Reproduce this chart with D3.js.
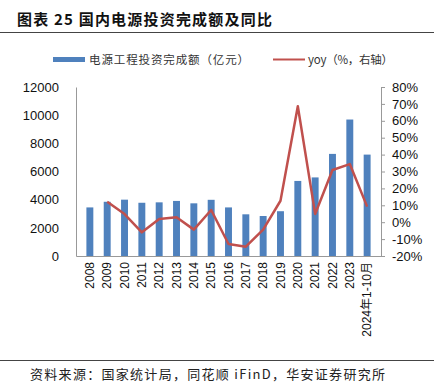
<!DOCTYPE html>
<html>
<head>
<meta charset="utf-8">
<script src="https://cdn.jsdelivr.net/npm/d3@7"></script>
<style>
  body { margin: 0; background: #fff; }
  svg text { font-family: "Liberation Sans", Arial, "Noto Sans CJK SC", sans-serif; }
  .cn { font-family: "Noto Sans CJK SC", sans-serif; }
</style>
</head>
<body>
<div id="chart"></div>
<script>
// data
var years = ["2008", "2009", "2010", "2011", "2012", "2013", "2014", "2015", "2016",
  "2017", "2018", "2019", "2020", "2021", "2022", "2023", "2024年1-10月"];
var invest = [3450, 3850, 4000, 3780, 3810, 3910, 3740, 3990, 3450,
  2960, 2840, 3180, 5330, 5580, 7250, 9690, 7200];
var yoy = [null, 12.1, 4.8, -6.0, 1.9, 2.9, -4.4, 7.2, -12.9,
  -14.5, -4.4, 12.7, 68.6, 4.9, 30.9, 34.4, 9.2];
var leftTicks = [0, 2000, 4000, 6000, 8000, 10000, 12000];
var rightTicks = [-20, -10, 0, 10, 20, 30, 40, 50, 60, 70, 80];

var svgWidth = 434, svgHeight = 386;
var margin = { top: 87, left: 76, right: 53, bottom: 130 };
var width = svgWidth - margin.left - margin.right;
var height = svgHeight - margin.top - margin.bottom;

var svg = d3.select("#chart").append("svg")
  .attr("width", svgWidth)
  .attr("height", svgHeight);

// title + rules
svg.append("text")
  .attr("class", "cn")
  .attr("x", 17).attr("y", 25)
  .attr("font-size", 15).attr("font-weight", "bold")
  .attr("letter-spacing", 1.2)
  .attr("fill", "#111")
  .text("图表 25 国内电源投资完成额及同比");
svg.append("line").attr("x1", 0).attr("x2", 434).attr("y1", 32.5).attr("y2", 32.5)
  .attr("stroke", "#444").attr("stroke-width", 1);
svg.append("line").attr("x1", 0).attr("x2", 434).attr("y1", 360.5).attr("y2", 360.5)
  .attr("stroke", "#444").attr("stroke-width", 1);
svg.append("text")
  .attr("class", "cn")
  .attr("x", 30).attr("y", 379)
  .attr("textLength", 355)
  .attr("font-size", 13).attr("fill", "#222")
  .text("资料来源：国家统计局，同花顺 iFinD，华安证券研究所");

// legend
var legend = svg.append("g").attr("font-size", 11.5).attr("fill", "#333");
legend.append("rect").attr("x", 53).attr("y", 57).attr("width", 32).attr("height", 5)
  .attr("fill", "#4f81bd");
legend.append("text").attr("class", "cn").attr("x", 89).attr("y", 64)
  .attr("textLength", 160)
  .text("电源工程投资完成额（亿元）");
legend.append("line").attr("x1", 273).attr("x2", 305).attr("y1", 59.5).attr("y2", 59.5)
  .attr("stroke", "#c0504d").attr("stroke-width", 2);
legend.append("text").attr("class", "cn").attr("x", 308).attr("y", 64)
  .attr("textLength", 85)
  .text("yoy（%，右轴）");

var chartGroup = svg.append("g")
  .attr("transform", `translate(${margin.left}, ${margin.top})`);

var xScale = d3.scaleBand().domain(years).range([0, width]).padding(0.6);
var yLeft = d3.scaleLinear().domain([0, 12000]).range([height, 0]);
var yRight = d3.scaleLinear().domain([-20, 80]).range([height, 0]);

// bars
chartGroup.selectAll(".bar")
  .data(years)
  .enter()
  .append("rect")
  .attr("class", "bar")
  .attr("x", d => xScale(d))
  .attr("width", xScale.bandwidth())
  .attr("y", (d, i) => yLeft(invest[i]))
  .attr("height", (d, i) => height - yLeft(invest[i]))
  .attr("fill", "#4f81bd");

// axes
var leftAxis = chartGroup.append("g")
  .call(d3.axisLeft(yLeft).tickValues(leftTicks).tickSize(0).tickPadding(17)
    .tickFormat(d3.format("d")));
leftAxis.select(".domain").attr("stroke", "#999");
leftAxis.selectAll("text").attr("font-size", 13).attr("fill", "#111");

var rightAxis = chartGroup.append("g")
  .attr("transform", `translate(${width}, 0)`)
  .call(d3.axisRight(yRight).tickValues(rightTicks).tickSize(4).tickPadding(7)
    .tickFormat(d => d + "%"));
rightAxis.select(".domain").attr("stroke", "#999");
rightAxis.selectAll("line").attr("stroke", "#999");
rightAxis.selectAll("text").attr("font-size", 13).attr("fill", "#111");

var bottomAxis = chartGroup.append("g")
  .attr("transform", `translate(0, ${height})`)
  .call(d3.axisBottom(xScale).tickSize(0).tickPadding(0));
bottomAxis.select(".domain").attr("stroke", "#999");
bottomAxis.selectAll("text")
  .attr("font-size", 12).attr("fill", "#111")
  .attr("text-anchor", "end")
  .attr("transform", "rotate(-90)")
  .attr("x", -6).attr("y", 0).attr("dy", "0.35em");

// yoy line
var line = d3.line()
  .defined(d => d[1] != null)
  .x(d => xScale(d[0]) + xScale.bandwidth() / 2)
  .y(d => yRight(d[1]));

chartGroup.append("path")
  .datum(years.map((d, i) => [d, yoy[i]]))
  .attr("d", line)
  .attr("fill", "none")
  .attr("stroke", "#c0504d")
  .attr("stroke-width", 2.5)
  .attr("stroke-linejoin", "round");
</script>
</body>
</html>
